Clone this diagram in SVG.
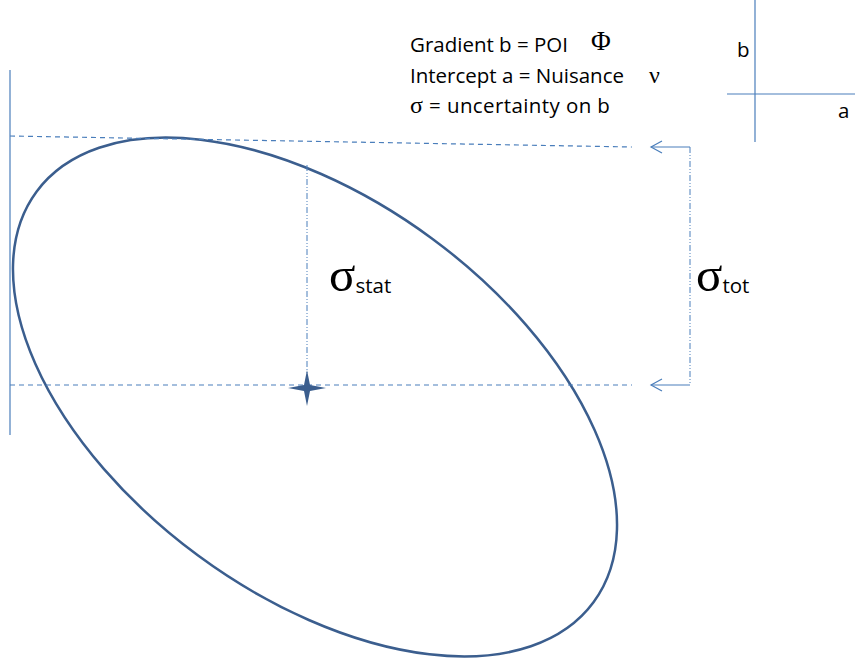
<svg xmlns="http://www.w3.org/2000/svg" width="855" height="662" viewBox="0 0 855 662">
<style>
.t{font-family:"Open Sans","Liberation Sans",sans-serif;font-size:20.5px;fill:#000}
.g{font-family:"Liberation Serif",serif;fill:#000}
.ln{stroke:#4a7ebb;stroke-width:1.2;fill:none}
.dash{stroke:#4a7ebb;stroke-width:1.2;fill:none;stroke-dasharray:5 4}
.dd{stroke:#4a7ebb;stroke-width:1;fill:none;stroke-dasharray:6 2 1 2 1 2}
.ah{stroke:#4a7ebb;stroke-width:1.2;fill:none}
</style>
<g id="ellipse"><ellipse cx="315" cy="397" rx="346" ry="197" transform="rotate(36.4 315 397)" fill="none" stroke="#3b5e8e" stroke-width="2.5"/></g>
<g id="connectors">
<line class="ln" x1="10" y1="70" x2="10" y2="435"/>
<line class="dash" x1="10" y1="136" x2="632" y2="147"/>
<line class="dash" x1="10" y1="385" x2="632" y2="385"/>
<line class="dd" x1="307" y1="165" x2="307" y2="385"/>
<line class="ln" x1="690" y1="147" x2="651" y2="147"/>
<path class="ah" d="M662,141 L651,147 L662,153"/>
<line class="ln" x1="690" y1="385" x2="651" y2="385"/>
<path class="ah" d="M662,379 L651,385 L662,391"/>
<line class="dd" x1="690" y1="147" x2="690" y2="385"/>
<line class="ln" x1="755" y1="0" x2="755" y2="142"/>
<line class="ln" x1="727" y1="94" x2="855" y2="94"/>
</g>
<g id="star"><path d="M307,370 L310,385 L326,388 L310,391 L307,406 L304,391 L288,388 L304,385 Z" fill="#3b5e8e"/></g>
<g id="legend">
<text class="t" x="410" y="52">Gradient b = POI</text>
<text class="g" x="591" y="50" font-size="27">Φ</text>
<text class="t" x="410" y="83">Intercept a = Nuisance</text>
<text class="g" x="649" y="83" font-size="24">ν</text>
<text class="t" x="410" y="113" letter-spacing="0.4"><tspan class="g" font-size="24">σ</tspan> = uncertainty on b</text>
</g>
<g id="axes-labels">
<text class="t" x="737" y="57">b</text>
<text class="t" x="838" y="118">a</text>
</g>
<g id="sigma-stat"><text class="g" x="329" y="291" font-size="49">σ<tspan class="t" font-size="13.5" dy="2">stat</tspan></text></g>
<g id="sigma-tot"><text class="g" x="696" y="291" font-size="49">σ<tspan class="t" font-size="13.5" dy="2">tot</tspan></text></g>
</svg>
